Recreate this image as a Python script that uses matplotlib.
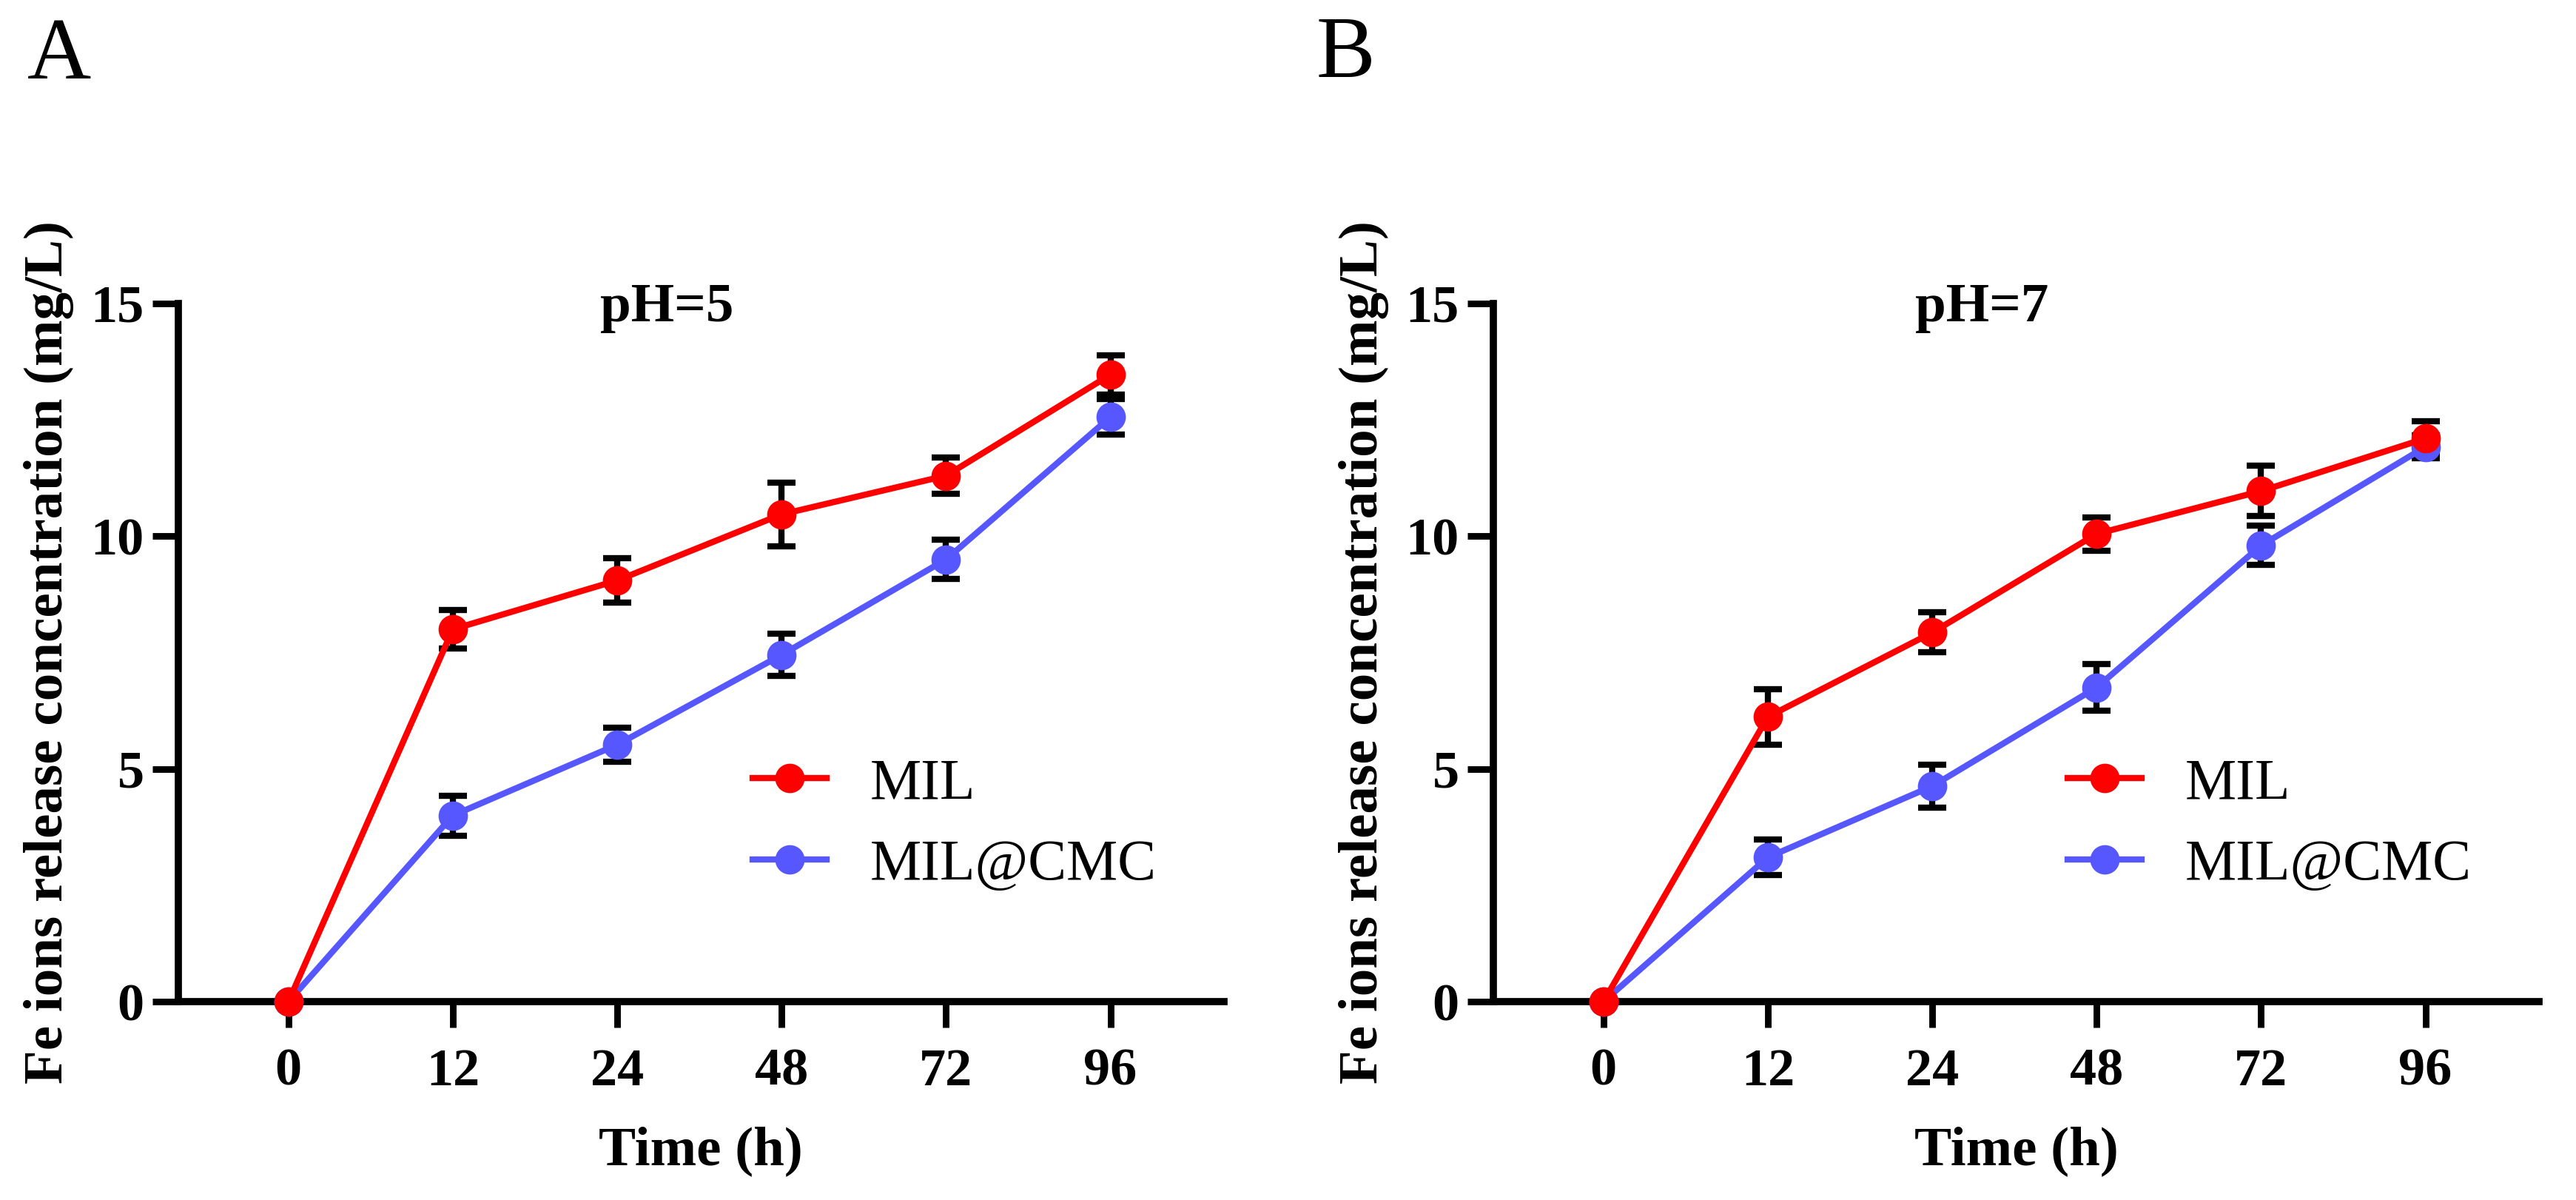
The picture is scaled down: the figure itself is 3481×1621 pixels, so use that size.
import matplotlib
matplotlib.use('Agg')
import matplotlib.pyplot as plt

plt.rcParams['font.family'] = ['Liberation Serif', 'DejaVu Serif']

# categories on the x axis (hours)
time_labels = ['0', '12', '24', '48', '72', '96']

# panel A, pH = 5
mil_ph5 = [0, 8.0, 9.05, 10.47, 11.3, 13.47]
mil_ph5_err = [0, 0.42, 0.47, 0.68, 0.39, 0.42]
cmc_ph5 = [0, 4.0, 5.52, 7.45, 9.5, 12.56]
cmc_ph5_err = [0, 0.43, 0.37, 0.45, 0.42, 0.38]

# panel B, pH = 7
mil_ph7 = [0, 6.12, 7.93, 10.05, 10.97, 12.1]
mil_ph7_err = [0, 0.6, 0.43, 0.36, 0.54, 0.37]
cmc_ph7 = [0, 3.1, 4.63, 6.75, 9.8, 11.92]
cmc_ph7_err = [0, 0.38, 0.46, 0.5, 0.42, 0.25]

RED = '#FF0000'
BLUE = '#5757FF'

fig = plt.figure(figsize=(17.405, 8.105), dpi=200)
ax_a = fig.add_axes([0.0692, 0.1653, 0.4059, 0.5818])
ax_b = fig.add_axes([0.5797, 0.1653, 0.4059, 0.5818])


def draw_panel(ax, mil, mil_err, cmc, cmc_err, title):
    x = list(range(len(time_labels)))
    # error bars (black) under the coloured lines
    for vals, errs in [(cmc, cmc_err), (mil, mil_err)]:
        ax.errorbar(x, vals, yerr=errs, fmt='none', ecolor='black',
                    elinewidth=3, capsize=7, capthick=3, zorder=3, clip_on=False)
    l_cmc, = ax.plot(x, cmc, color=BLUE, lw=3, marker='o', ms=13.3,
                     label='MIL@CMC', zorder=4, clip_on=False)
    l_mil, = ax.plot(x, mil, color=RED, lw=3, marker='o', ms=13.3,
                     label='MIL', zorder=5, clip_on=False)

    ax.set_xlim(-0.67, 5.69)
    ax.set_ylim(0, 15)
    ax.set_xticks(x)
    ax.set_xticklabels(time_labels)
    ax.set_yticks([0, 5, 10, 15])

    for side in ['top', 'right']:
        ax.spines[side].set_visible(False)
    for side in ['left', 'bottom']:
        ax.spines[side].set_linewidth(3.5)
    ax.tick_params(axis='both', which='major', direction='out', length=12.6,
                   width=3.2, labelsize=26)
    ax.tick_params(axis='x', pad=10)
    ax.tick_params(axis='y', pad=4)
    for lbl in ax.get_xticklabels() + ax.get_yticklabels():
        lbl.set_fontweight('bold')

    ax.set_xlabel('Time (h)', fontsize=27, fontweight='bold')
    ax.xaxis.set_label_coords(0.5, -0.178)
    ax.set_ylabel('Fe ions release concentration (mg/L)', fontsize=27,
                  fontweight='bold')
    ax.yaxis.set_label_coords(-0.1, 0.5)

    ax.text(2.30, 14.62, title, fontsize=27, fontweight='bold',
            ha='center', va='baseline')

    ax.legend(handles=[l_mil, l_cmc], loc='center left',
              bbox_to_anchor=(0.549, 0.253), frameon=False, fontsize=28,
              borderpad=0, borderaxespad=0, handlelength=1.29,
              handletextpad=0.75, labelspacing=0.5)


draw_panel(ax_a, mil_ph5, mil_ph5_err, cmc_ph5, cmc_ph5_err, 'pH=5')
draw_panel(ax_b, mil_ph7, mil_ph7_err, cmc_ph7, cmc_ph7_err, 'pH=7')

fig.text(37 / 3481, 1 - 106 / 1621, 'A', fontsize=43, va='baseline', ha='left')
fig.text(1779 / 3481, 1 - 104 / 1621, 'B', fontsize=43, va='baseline', ha='left')

fig.savefig('out.png', dpi=200, facecolor='white')
